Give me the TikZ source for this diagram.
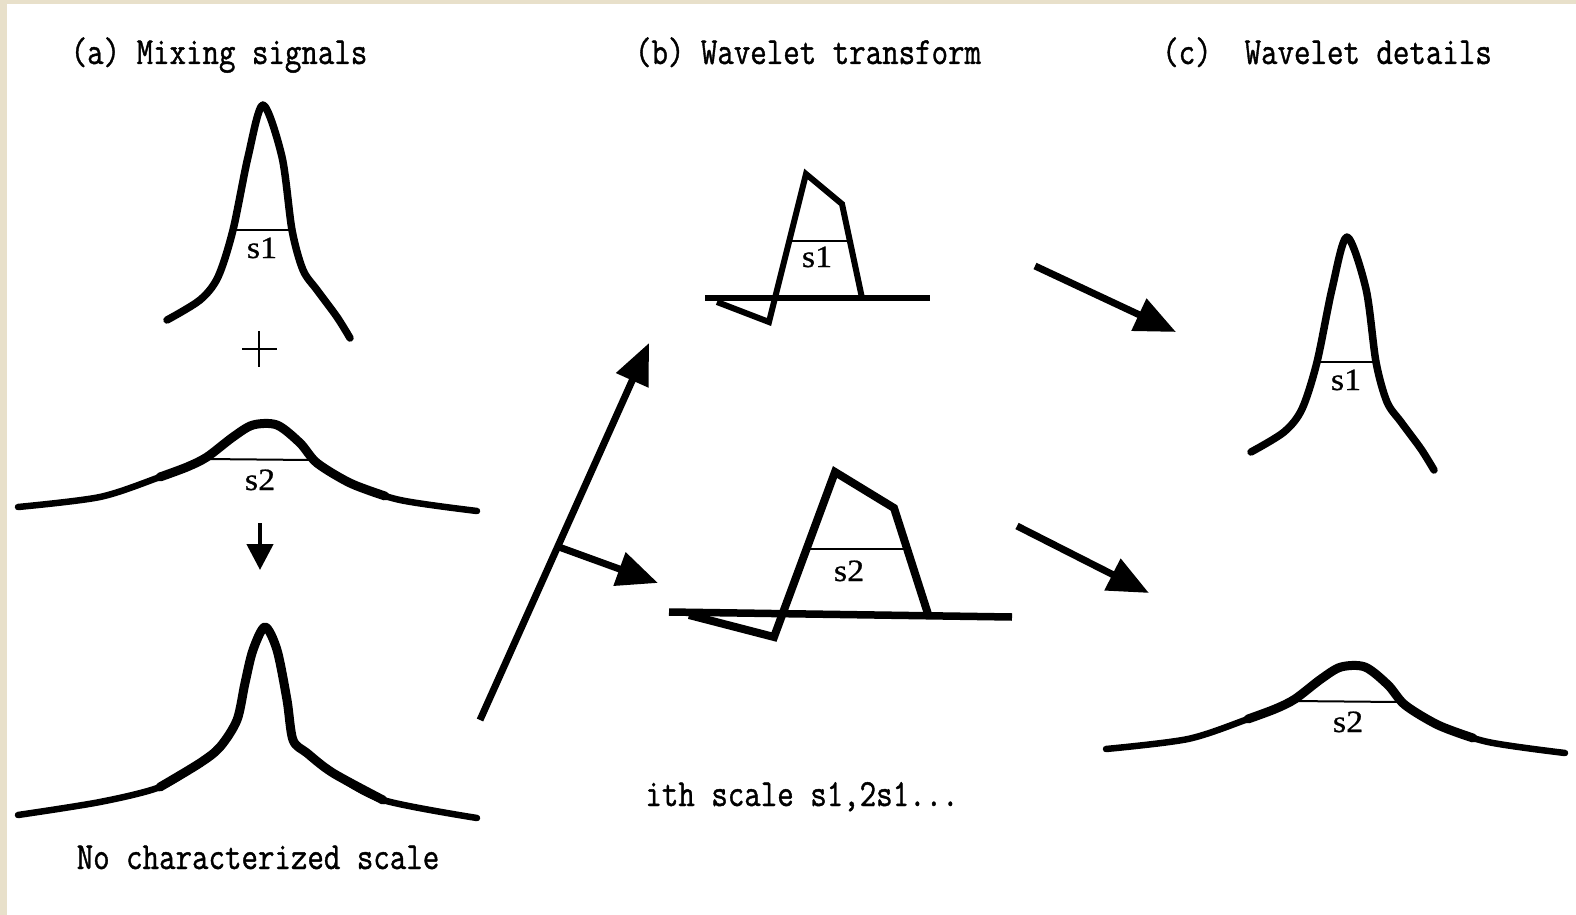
\documentclass[tikz,border=0pt]{standalone}
\usepackage{fontspec}
\usetikzlibrary{arrows.meta,calc}
\newfontfamily\labelfont{Liberation Serif}[FakeBold=0.6]
\newfontfamily\titlefont{Latin Modern Mono}[FakeBold=1.2]
\definecolor{beige}{RGB}{232,224,202}
\tikzset{
  curve/.style={line width=7.5pt, line cap=round, line join=round},
  thin curve/.style={line width=6.5pt, line cap=round, line join=round},
  thick curve/.style={line width=9pt, line cap=round, line join=round},
  wave/.style={line width=6pt, line join=miter},
  scaleline/.style={line width=2pt},
  slabel/.style={font=\labelfont\fontsize{31}{34}\selectfont, anchor=base, inner sep=0pt},
  title/.style={font=\titlefont\fontsize{32}{36}\selectfont, anchor=base, inner sep=0pt},
  bigarrow/.style={line width=7pt, -{Triangle[length=41pt,width=34pt]}},
  smallarrow/.style={line width=4.5pt, -{Triangle[length=26pt,width=26pt]}},
  sharppeak/.pic={
    \draw[curve] plot[smooth, tension=0.5] coordinates {(-96,215) (-63,195) (-45,172) (-30,125) (-15,52) (0,0) (19,52) (29,125) (40,165) (54,185) (74,212) (87,233)};
    \draw[scaleline] (-30,125) -- (28,125);
    \node[slabel] (-lab) at (-1,153) {\scalebox{1.1}[1]{s1}};
  },
  broadpeak/.pic={
    \draw[thin curve] plot[smooth, tension=0.5] coordinates {(-247,82) (-165,72) (-105,52) (-78,42) (-58,32) (-32,12) (-12,0) (12,0) (35,18) (52,38) (85,58) (135,75) (212,86)};
    \draw[thick curve] plot[smooth, tension=0.5] coordinates {(-105,52) (-78,42) (-58,32) (-32,12) (-12,0) (12,0) (35,18) (52,38) (85,58) (120,71)};
    \draw[scaleline] (-61,34) -- (45,35);
    \node[slabel] (-lab) at (-5,65) {\scalebox{1.1}[1]{s2}};
  },
}
\begin{document}
\begin{tikzpicture}[x=1pt,y=-1pt]
\useasboundingbox (0,0) rectangle (1576,915);
\fill[beige] (0,0) rectangle (1576,915);
\fill[white] (7,4) rectangle (1576,915);

% titles
\node[title] (ta) at (219,64) {\scalebox{1}[1.2]{(a) Mixing signals}};
\node[title] (tb) at (808,64) {\scalebox{1}[1.2]{(b) Wavelet transform}};
\node[title] (tc) at (1327,64) {\scalebox{1}[1.2]{(c)~~Wavelet details}};
\node[title] (tn) at (258,869) {\scalebox{1}[1.2]{No characterized scale}};
\node[title] (ti) at (802,806) {\scalebox{1}[1.2]{ith scale s1,2s1...}};

% (a) mixing signals
\pic (pa1) at (263,105) {sharppeak};
\draw[line width=2.5pt] (242,349) -- (277,349);
\draw[line width=2.5pt] (259,331) -- (259,367);
\pic (pa2) at (265,425) {broadpeak};
\coordinate (dn0) at (260,523);
\coordinate (dn1) at (260,570);
\draw[smallarrow] (dn0) -- (dn1);
\draw[thin curve] plot[smooth, tension=0.5] coordinates {(18,815) (100,802) (160,787) (200,763) (220,747) (237,720) (245,683) (253,650) (265,627) (277,650) (287,700) (293,740) (307,753) (333,773) (383,800) (477,818)};
\draw[thick curve] plot[smooth, tension=0.5] coordinates {(160,787) (200,763) (220,747) (237,720) (245,683) (253,650) (265,627) (277,650) (287,700) (293,740) (307,753) (333,773) (383,800)};

% arrows from (a) to (b)
\coordinate (d0) at (480,720);
\coordinate (d1) at (649,343);
\draw[bigarrow] (d0) -- (d1);
\coordinate (b0) at ($(d0)!0.46!(d1)$);
\coordinate (b1) at (658,583);
\draw[bigarrow] (b0) -- (b1);

% (b) wavelets
\draw[wave] (705,298) -- (930,298);
\draw[wave] (717,302) -- (769,322) -- (806,174) -- (842,204) -- (862,298);
\draw[scaleline] (790,241) -- (849,241);
\node[slabel] (wl1) at (817,267) {\scalebox{1.1}[1]{s1}};

\draw[line width=7.5pt] (669,612) -- (1012,617);
\draw[line width=8pt, line join=miter] (689,615) -- (774,637) -- (835,472) -- (894,508) -- (928,614);
\draw[scaleline] (808,549) -- (905,549);
\node[slabel] (wl2) at (849,581) {\scalebox{1.1}[1]{s2}};

% arrows from (b) to (c)
\coordinate (c0) at (1035,266);
\coordinate (c1) at (1176,332);
\draw[bigarrow] (c0) -- (c1);
\coordinate (e0) at (1017,526);
\coordinate (e1) at (1149,593);
\draw[bigarrow] (e0) -- (e1);

% (c) details
\pic (pc1) at (1347,237) {sharppeak};
\pic (pc2) at (1353,667) {broadpeak};
\end{tikzpicture}
\end{document}
